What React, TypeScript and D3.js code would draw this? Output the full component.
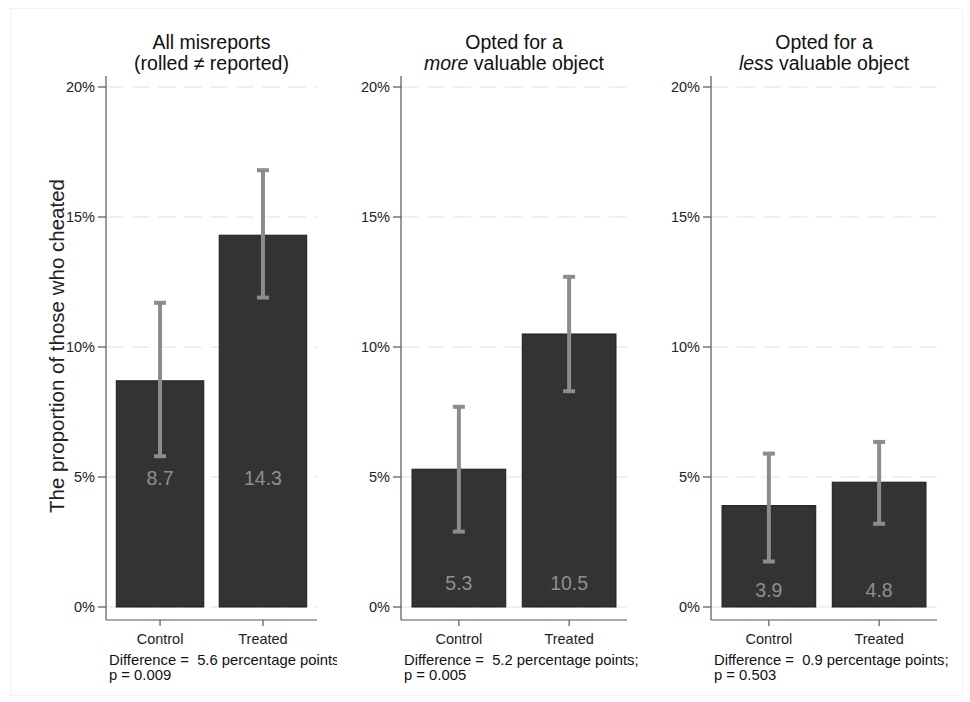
import React from "react";
import * as d3 from "d3";

const categories = ["Control", "Treated"];
const titleLine1 = ["All misreports", "Opted for a", "Opted for a"];
const titleEmph = ["", "more", "less"];
const titleLine2 = ["(rolled ≠ reported)", " valuable object", " valuable object"];
const controlValues = [8.7, 5.3, 3.9];
const treatedValues = [14.3, 10.5, 4.8];
const controlLow = [5.8, 2.9, 1.75];
const controlHigh = [11.7, 7.7, 5.9];
const treatedLow = [11.9, 8.3, 3.2];
const treatedHigh = [16.8, 12.7, 6.35];
const labelAnchor = [4.95, 0.92, 0.65];
const differences = ["5.6", "5.2", "0.9"];
const differenceSuffix = ["", ";", ";"];
const pValues = ["0.009", "0.005", "0.503"];
const yTicks = [0, 5, 10, 15, 20];

const W = 970;
const H = 702;
const FONT = "'Liberation Sans', Arial, sans-serif";
const panelRanges: [number, number][] = [
  [106, 317],
  [401, 627],
  [711, 937],
];
const yTop = 76;
const xAxisY = 620;

export default function App() {
  const y = d3.scaleLinear().domain([0, 20]).range([607, 87]);
  return (
    <svg
      width={W}
      height={H}
      style={{ position: "absolute", left: 0, top: 0, background: "#fff" }}
      fontFamily={FONT}
    >
      <defs>
        <clipPath id="clip0">
          <rect x={0} y={0} width={337} height={H} />
        </clipPath>
      </defs>
      <rect x={0} y={0} width={W} height={H} fill="#fff" />
      <rect x={10.5} y={8.5} width={952} height={687} fill="none" stroke="#f3f3f3" />
      <text
        transform={`translate(64,346) rotate(-90)`}
        textAnchor="middle"
        fontSize={20.5}
        fill="#222"
      >
        The proportion of those who cheated
      </text>
      {panelRanges.map(([x0, x1], i) => {
        const x = d3
          .scaleBand<string>()
          .domain(categories)
          .range([x0, x1])
          .paddingInner(0.15)
          .paddingOuter(0.1);
        const vals = [controlValues[i], treatedValues[i]];
        const lows = [controlLow[i], treatedLow[i]];
        const highs = [controlHigh[i], treatedHigh[i]];
        const cx = (x0 + x1) / 2;
        return (
          <g key={i}>
            <text textAnchor="middle" fontSize={19.5} fill="#111">
              <tspan x={cx} y={49}>
                {titleLine1[i]}
              </tspan>
              <tspan x={cx} y={70}>
                {titleEmph[i] ? (
                  <tspan fontStyle="italic">{titleEmph[i]}</tspan>
                ) : null}
                <tspan style={{ whiteSpace: "pre" }}>{titleLine2[i]}</tspan>
              </tspan>
            </text>
            {yTicks.map((t) => (
              <g key={t}>
                <line
                  x1={x0}
                  x2={x1}
                  y1={y(t)}
                  y2={y(t)}
                  stroke="#e4e4e4"
                  strokeWidth={1.2}
                  strokeDasharray="18,8"
                />
                <line x1={x0 - 8} x2={x0} y1={y(t)} y2={y(t)} stroke="#555" strokeWidth={1.2} />
                <text
                  x={x0 - 11}
                  y={y(t)}
                  dy="0.35em"
                  textAnchor="end"
                  fontSize={14.5}
                  fill="#222"
                >
                  {t}%
                </text>
              </g>
            ))}
            {categories.map((c, j) => {
              const bx = x(c)!;
              const bw = x.bandwidth();
              const mid = bx + bw / 2;
              return (
                <g key={c}>
                  <rect
                    x={bx}
                    y={y(vals[j])}
                    width={bw}
                    height={y(0) - y(vals[j])}
                    fill="#333333"
                    stroke="#1c1c1c"
                    strokeWidth={1}
                  />
                  <line
                    x1={mid}
                    x2={mid}
                    y1={y(highs[j])}
                    y2={y(lows[j])}
                    stroke="#8c8c8c"
                    strokeWidth={4}
                  />
                  <line
                    x1={mid - 6}
                    x2={mid + 6}
                    y1={y(highs[j])}
                    y2={y(highs[j])}
                    stroke="#8c8c8c"
                    strokeWidth={4}
                  />
                  <line
                    x1={mid - 6}
                    x2={mid + 6}
                    y1={y(lows[j])}
                    y2={y(lows[j])}
                    stroke="#8c8c8c"
                    strokeWidth={4}
                  />
                  <text
                    x={mid}
                    y={y(labelAnchor[i])}
                    dy="0.35em"
                    textAnchor="middle"
                    fontSize={19.5}
                    fill="#8f8f8f"
                  >
                    {vals[j].toFixed(1)}
                  </text>
                  <line x1={mid} x2={mid} y1={xAxisY} y2={xAxisY + 6} stroke="#555" strokeWidth={1.2} />
                  <text x={mid} y={644} textAnchor="middle" fontSize={14.5} fill="#222">
                    {c}
                  </text>
                </g>
              );
            })}
            <line x1={x0} x2={x0} y1={yTop} y2={xAxisY} stroke="#555" strokeWidth={1.2} />
            <line x1={x0} x2={x1} y1={xAxisY} y2={xAxisY} stroke="#555" strokeWidth={1.2} />
            <g clipPath={i === 0 ? "url(#clip0)" : undefined}>
              <text
                x={x0 + 3}
                y={665}
                fontSize={14.8}
                fill="#111"
                style={{ whiteSpace: "pre" }}
              >
                {`Difference =  ${differences[i]} percentage points${differenceSuffix[i]}`}
              </text>
              <text x={x0 + 3} y={680} fontSize={14.8} fill="#111">
                {`p = ${pValues[i]}`}
              </text>
            </g>
          </g>
        );
      })}
    </svg>
  );
}
